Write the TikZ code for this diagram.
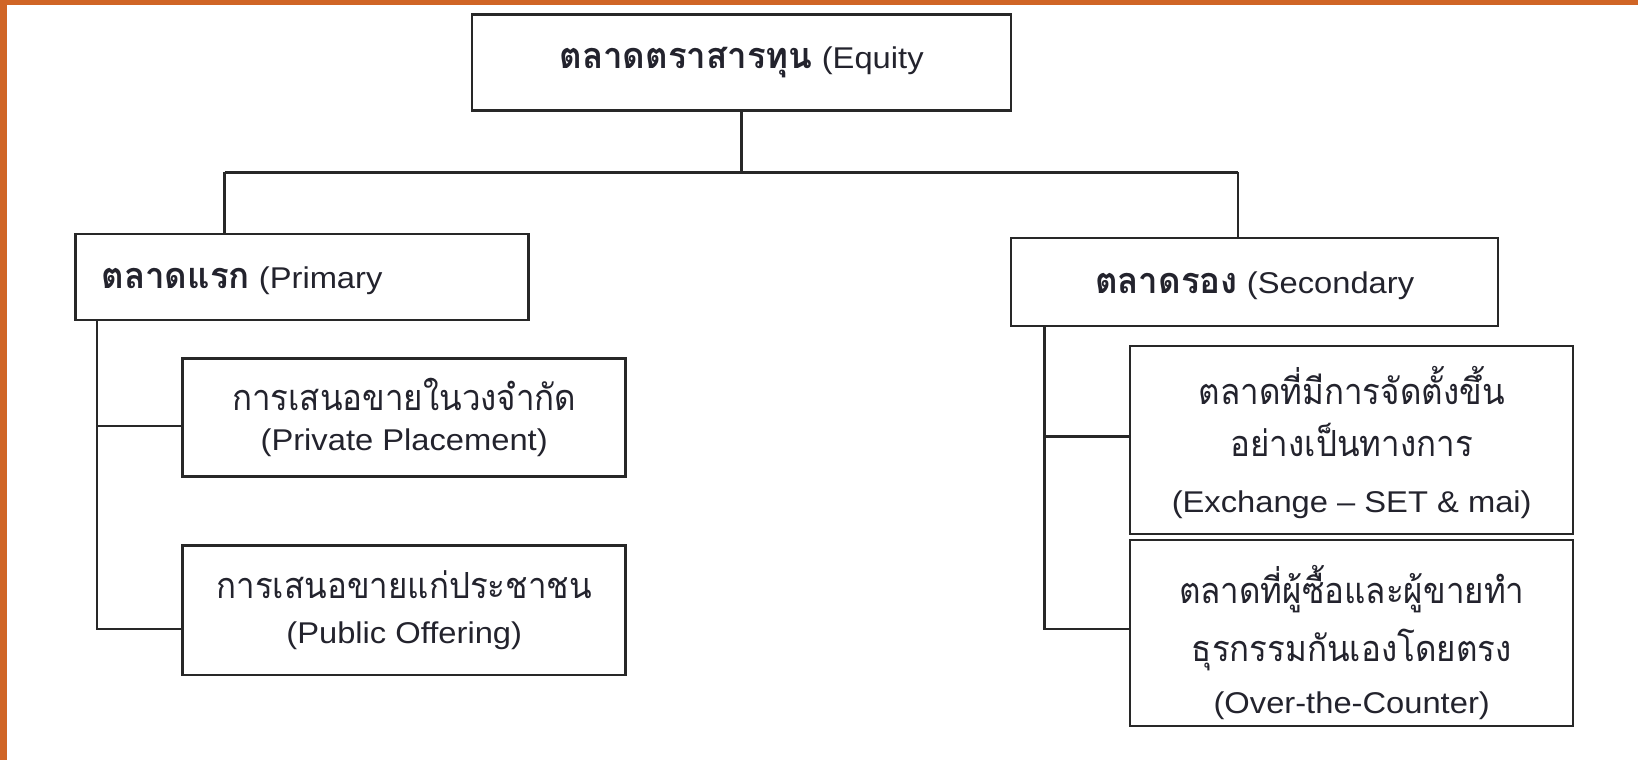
\documentclass[tikz,border=0pt]{standalone}
\usepackage{fontspec}
\setmainfont[FakeStretch=1.09]{Liberation Sans}
\newfontfamily\thfont[Script=Thai, Scale=1.2, FakeStretch=0.92, BoldFeatures={FakeStretch=0.968}]{Loma}
\definecolor{frameorange}{RGB}{208,101,38}
\definecolor{linegray}{RGB}{40,40,40}
\definecolor{textgray}{RGB}{35,35,45}
\newcommand\boxfont{\fontsize{30}{36}\selectfont\lineskiplimit=-100pt\relax}
\begin{document}
\begin{tikzpicture}[x=1pt,y=-1pt,
  box/.style={draw=linegray, line width=2.5pt, inner sep=0pt, align=center, font=\boxfont, text=textgray},
  boxtext/.style={inner sep=0pt, align=center, font=\boxfont, text=textgray},
  conn/.style={draw=linegray, line width=2.5pt}]
\useasboundingbox (0,0) rectangle (1638,760);
\fill[white] (0,0) rectangle (1638,760);
\fill[frameorange] (0,0) rectangle (7,760);
\fill[frameorange] (0,0) rectangle (1638,5);

\node[box, minimum width=539pt, minimum height=96pt] (top) at (741.5,62.6)
  {{\thfont\bfseries ตลาดตราสารทุน} (Equity};
\node[box, minimum width=453pt, minimum height=86pt] (prim) at (302,277) {};
\node[boxtext, anchor=west] (primt) at ([xshift=27pt,yshift=-4pt]prim.west)
  {{\thfont\bfseries ตลาดแรก} (Primary};
\node[box, minimum width=487pt, minimum height=88pt] (sec) at (1254.6,282) {};
\node[boxtext] (sect) at ([yshift=-4pt]sec.center)
  {{\thfont\bfseries ตลาดรอง} (Secondary};
\node[box, minimum width=443pt, minimum height=118pt] (pp) at (404.2,417.3)
  {{\thfont การเสนอขายในวงจำกัด}\\[4pt](Private Placement)};
\node[box, minimum width=443pt, minimum height=129.5pt] (po) at (404.2,610)
  {{\thfont การเสนอขายแก่ประชาชน}\\[9pt](Public Offering)};
\node[box, minimum width=443pt, minimum height=188pt] (exch) at (1351.7,439.8) {};
\node[boxtext] (excht) at ([yshift=-3pt]exch.center)
  {{\thfont ตลาดที่มีการจัดตั้งขึ้น}\\[16pt]{\thfont อย่างเป็นทางการ}\\[20pt](Exchange – SET \& mai)};
\node[box, minimum width=443pt, minimum height=186pt] (otc) at (1351.7,633) {};
\node[boxtext] (otct) at ([yshift=-10pt]otc.center)
  {{\thfont ตลาดที่ผู้ซื้อและผู้ขายทำ}\\[22pt]{\thfont ธุรกรรมกันเองโดยตรง}\\[16pt](Over-the-Counter)};

\coordinate (cL) at (224.6,172.4);
\coordinate (cR) at (1237.9,172.4);
\draw[conn] (top.south) -- (top.south |- cL);
\draw[conn] (cL) -- (cR);
\draw[conn] (cL) -- (cL |- prim.north);
\draw[conn] (cR) -- (cR |- sec.north);

\coordinate (l1) at (97.1,426.2);
\coordinate (l2) at (97.1,628.8);
\draw[conn] (l1 |- prim.south) -- (l2) -- (l2 -| po.west);
\draw[conn] (l1) -- (l1 -| pp.west);

\coordinate (r1) at (1044.6,436.6);
\coordinate (r2) at (1044.6,628.8);
\draw[conn] (r1 |- sec.south) -- (r2) -- (r2 -| otc.west);
\draw[conn] (r1) -- (r1 -| exch.west);
\end{tikzpicture}
\end{document}
